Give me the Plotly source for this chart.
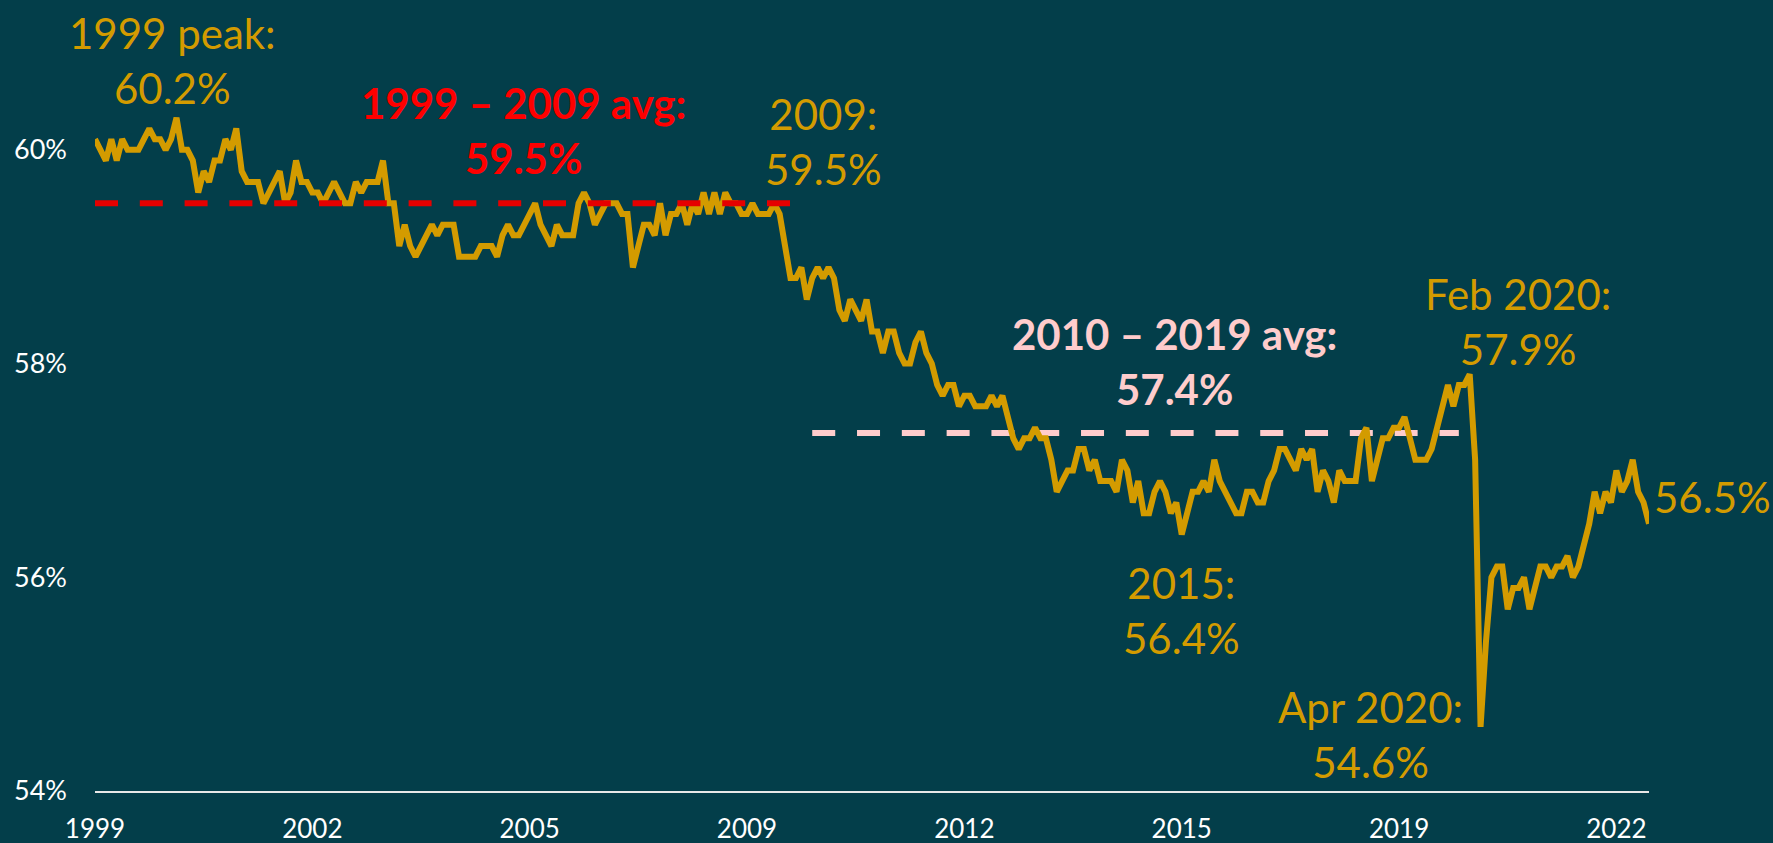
import plotly.graph_objects as go
import pandas as pd

# Monthly values (%), Jan 1999 .. Nov 2022
values = [
    60.1, 60.0, 59.9, 60.1, 59.9, 60.1, 60.0, 60.0, 60.0, 60.1,
    60.2, 60.1, 60.1, 60.0, 60.1, 60.3, 60.0, 60.0, 59.9, 59.6,
    59.8, 59.7, 59.9, 59.9, 60.1, 60.0, 60.2, 59.8, 59.7, 59.7,
    59.7, 59.5, 59.6, 59.7, 59.8, 59.5, 59.6, 59.9, 59.7, 59.7,
    59.6, 59.6, 59.5, 59.6, 59.7, 59.6, 59.5, 59.5, 59.7, 59.6,
    59.7, 59.7, 59.7, 59.9, 59.5, 59.5, 59.1, 59.3, 59.1, 59.0,
    59.1, 59.2, 59.3, 59.2, 59.3, 59.3, 59.3, 59.0, 59.0, 59.0,
    59.0, 59.1, 59.1, 59.1, 59.0, 59.2, 59.3, 59.2, 59.2, 59.3,
    59.4, 59.5, 59.3, 59.2, 59.1, 59.3, 59.2, 59.2, 59.2, 59.5,
    59.6, 59.5, 59.3, 59.4, 59.5, 59.5, 59.5, 59.4, 59.4, 58.9,
    59.1, 59.3, 59.3, 59.2, 59.5, 59.2, 59.4, 59.4, 59.5, 59.3,
    59.5, 59.4, 59.6, 59.4, 59.6, 59.4, 59.6, 59.5, 59.5, 59.4,
    59.4, 59.5, 59.4, 59.4, 59.4, 59.5, 59.4, 59.1, 58.8, 58.8,
    58.9, 58.6, 58.8, 58.9, 58.8, 58.9, 58.8, 58.5, 58.4, 58.6,
    58.5, 58.4, 58.6, 58.3, 58.3, 58.1, 58.3, 58.3, 58.1, 58.0,
    58.0, 58.2, 58.3, 58.1, 58.0, 57.8, 57.7, 57.8, 57.8, 57.6,
    57.7, 57.7, 57.6, 57.6, 57.6, 57.7, 57.6, 57.7, 57.5, 57.3,
    57.2, 57.3, 57.3, 57.4, 57.3, 57.3, 57.1, 56.8, 56.9, 57.0,
    57.0, 57.2, 57.2, 57.0, 57.1, 56.9, 56.9, 56.9, 56.8, 57.1,
    57.0, 56.7, 56.9, 56.6, 56.6, 56.8, 56.9, 56.8, 56.6, 56.7,
    56.4, 56.6, 56.8, 56.8, 56.9, 56.8, 57.1, 56.9, 56.8, 56.7,
    56.6, 56.6, 56.8, 56.8, 56.7, 56.7, 56.9, 57.0, 57.2, 57.2,
    57.1, 57.0, 57.2, 57.1, 57.2, 56.8, 57.0, 56.9, 56.7, 57.0,
    56.9, 56.9, 56.9, 57.3, 57.4, 56.9, 57.1, 57.3, 57.3, 57.4,
    57.4, 57.5, 57.3, 57.1, 57.1, 57.1, 57.2, 57.4, 57.6, 57.8,
    57.6, 57.8, 57.8, 57.9, 57.1, 54.6, 55.4, 56.0, 56.1, 56.1,
    55.7, 55.9, 55.9, 56.0, 55.7, 55.9, 56.1, 56.1, 56.0, 56.1,
    56.1, 56.2, 56.0, 56.1, 56.3, 56.5, 56.8, 56.6, 56.8, 56.7,
    57.0, 56.8, 56.9, 57.1, 56.8, 56.7, 56.5,
]
months = pd.date_range("1999-01-01", periods=len(values), freq="MS").strftime("%Y-%m").tolist()

tick_labels = ["1999", "2002", "2005", "2009", "2012", "2015", "2019", "2022"]
tick_step = 40

avg_1999_2009 = 59.5
avg_2010_2019 = 57.35
avg1_span = ("1999-01", "2009-12")
avg2_span = ("2010-01", "2019-12")

BG = "#033E4A"
GOLD = "#D39B00"
RED = "#FF0000"
PINK = "#FFCCCC"
FONT = "Lato"

fig = go.Figure()
fig.add_trace(go.Scatter(
    x=list(avg2_span), y=[avg_2010_2019] * 2, mode="lines",
    line=dict(color=PINK, width=6, dash="23px,21.8px"), hoverinfo="skip"))
fig.add_trace(go.Scatter(
    x=months, y=values, mode="lines",
    line=dict(color=GOLD, width=6), hoverinfo="x+y"))
fig.add_trace(go.Scatter(
    x=list(avg1_span), y=[avg_1999_2009] * 2, mode="lines",
    line=dict(color="#E60000", width=6, dash="23px,21.8px"), hoverinfo="skip"))

ann = [
    dict(x=14.2, y=60.84, text="1999 peak:<br>60.2%", color=GOLD, bold=False),
    dict(x=78.9, y=60.18, text="1999 – 2009 avg:<br>59.5%", color=RED, bold=True),
    dict(x=134.1, y=60.08, text="2009:<br>59.5%", color=GOLD, bold=False),
    dict(x=198.7, y=58.02, text="2010 – 2019 avg:<br>57.4%", color=PINK, bold=True),
    dict(x=261.8, y=58.39, text="Feb 2020:<br>57.9%", color=GOLD, bold=False),
    dict(x=200.0, y=55.69, text="2015:<br>56.4%", color=GOLD, bold=False),
    dict(x=234.8, y=54.53, text="Apr 2020:<br>54.6%", color=GOLD, bold=False),
]
for a in ann:
    txt = a["text"]
    if a["bold"]:
        txt = "<br>".join("<b>" + t + "</b>" for t in txt.split("<br>"))
    fig.add_annotation(x=a["x"], y=a["y"], xref="x", yref="y", text=txt,
                       showarrow=False, xanchor="center", yanchor="middle",
                       font=dict(family=FONT, size=42, color=a["color"]))
fig.add_annotation(x=len(values) - 1, y=56.75, xref="x", yref="y", text="56.5%",
                   showarrow=False, xanchor="left", yanchor="middle", xshift=3,
                   font=dict(family=FONT, size=42, color=GOLD))

fig.update_layout(
    width=1773, height=843,
    margin=dict(l=95, r=124, t=43, b=52),
    paper_bgcolor=BG, plot_bgcolor=BG,
    showlegend=False,
    font=dict(family=FONT, color="white", size=27),
    xaxis=dict(type="category", categoryorder="array", categoryarray=months,
               range=[0, len(values) - 1],
               tickvals=months[::tick_step], ticktext=tick_labels,
               showgrid=False, zeroline=False, showline=True,
               linecolor="#E8E8E8", linewidth=2, ticks="",
               ticklabelstandoff=14, automargin=False,
               tickfont=dict(family=FONT, size=26, color="white")),
    yaxis=dict(range=[54, 61], tickvals=[54, 56, 58, 60],
               ticktext=["54%", "56%", "58%", "60%"],
               showgrid=False, zeroline=False, showline=False, ticks="",
               ticklabelstandoff=27, automargin=False,
               tickfont=dict(family=FONT, size=27, color="white")),
)

fig.write_html("out.html", config={"displayModeBar": False},
               post_script="document.body.style.margin='0';")
